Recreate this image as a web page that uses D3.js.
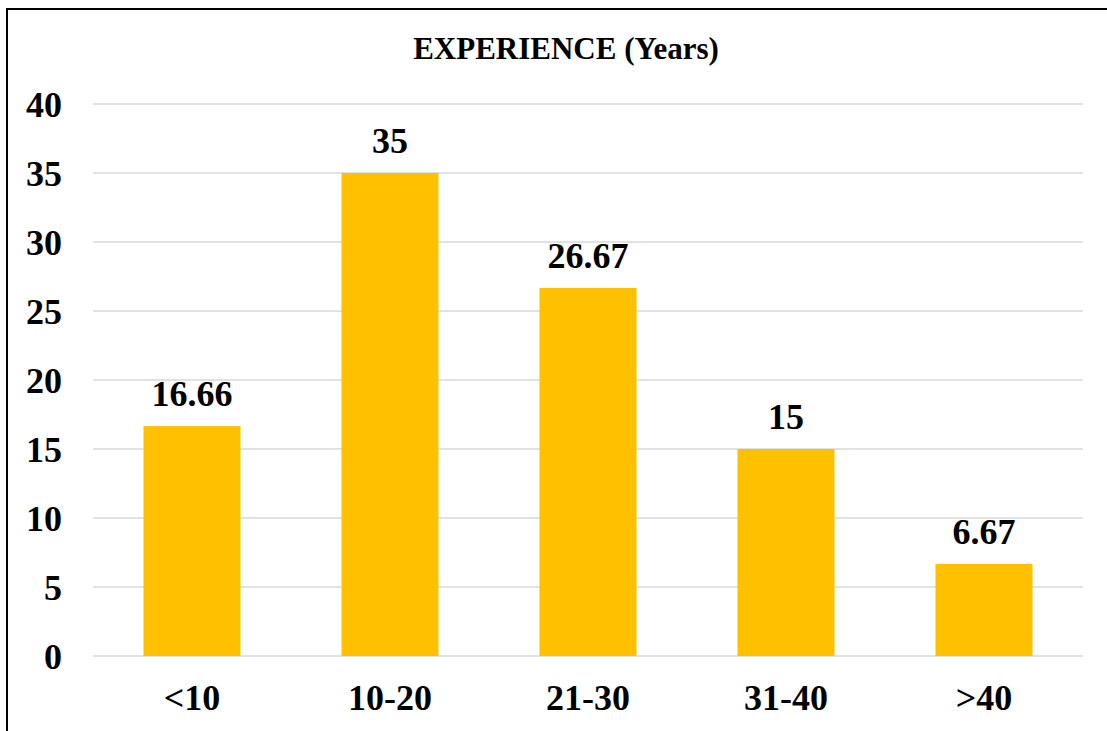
<!DOCTYPE html>
<html>
<head>
<meta charset="utf-8">
<script src="https://cdn.jsdelivr.net/npm/d3@7/dist/d3.min.js"></script>
<style>
  html, body { margin: 0; padding: 0; background: #ffffff; }
  svg { display: block; }
  text { font-family: "Liberation Serif", "Times New Roman", serif; font-weight: bold; fill: #000; }
</style>
</head>
<body>
<svg id="chart" width="1107" height="731"></svg>
<script>
// Share of respondents by years of experience
const categories = ["<10", "10-20", "21-30", "31-40", ">40"];
const values = [16.66, 35, 26.67, 15, 6.67];
const valueLabels = ["16.66", "35", "26.67", "15", "6.67"];
const yTicks = [0, 5, 10, 15, 20, 25, 30, 35, 40];
const chartTitle = "EXPERIENCE (Years)";

const W = 1107, H = 731;
const plot = { left: 93, right: 1083, top: 104, bottom: 656 };

const svg = d3.select("#chart");

// Outer frame (its right and bottom edges run past the page)
svg.append("rect")
  .attr("x", 7).attr("y", 9)
  .attr("width", W + 20).attr("height", H + 20)
  .attr("fill", "none")
  .attr("stroke", "#000")
  .attr("stroke-width", 2);

const x = d3.scaleBand()
  .domain(categories)
  .range([plot.left, plot.right])
  .paddingInner(0.51)
  .paddingOuter(0.255);

const y = d3.scaleLinear()
  .domain([0, 40])
  .range([plot.bottom, plot.top]);

// Horizontal gridlines
svg.append("g")
  .selectAll("line")
  .data(yTicks)
  .join("line")
  .attr("x1", plot.left).attr("x2", plot.right)
  .attr("y1", d => y(d)).attr("y2", d => y(d))
  .attr("stroke", "#d9d9d9")
  .attr("stroke-width", 1.5);

// Y axis labels
const yAxis = d3.axisLeft(y).tickValues(yTicks).tickSize(0).tickPadding(0);
const yg = svg.append("g")
  .attr("transform", `translate(${62},0)`)
  .call(yAxis);
yg.select(".domain").remove();
yg.selectAll("text")
  .attr("font-size", 36)
  .attr("font-family", null)
  .attr("dy", "0.34em")
  .attr("text-anchor", "end");

// Bars
svg.append("g")
  .selectAll("rect")
  .data(values)
  .join("rect")
  .attr("x", (d, i) => x(categories[i]))
  .attr("width", x.bandwidth())
  .attr("y", d => y(d))
  .attr("height", d => y(0) - y(d))
  .attr("fill", "#ffc000");

// Value labels
svg.append("g")
  .selectAll("text")
  .data(values)
  .join("text")
  .attr("x", (d, i) => x(categories[i]) + x.bandwidth() / 2)
  .attr("y", d => y(d) - 20)
  .attr("text-anchor", "middle")
  .attr("font-size", 36)
  .text((d, i) => valueLabels[i]);

// Category axis labels
const xAxis = d3.axisBottom(x).tickSize(0).tickPadding(0);
const xg = svg.append("g")
  .attr("transform", `translate(0,${710})`)
  .call(xAxis);
xg.select(".domain").remove();
xg.selectAll("text")
  .attr("font-size", 36)
  .attr("font-family", null)
  .attr("dy", 0)
  .attr("y", 0);

// Title
svg.append("text")
  .attr("x", 566)
  .attr("y", 59)
  .attr("text-anchor", "middle")
  .attr("font-size", 31)
  .text(chartTitle);
</script>
</body>
</html>
